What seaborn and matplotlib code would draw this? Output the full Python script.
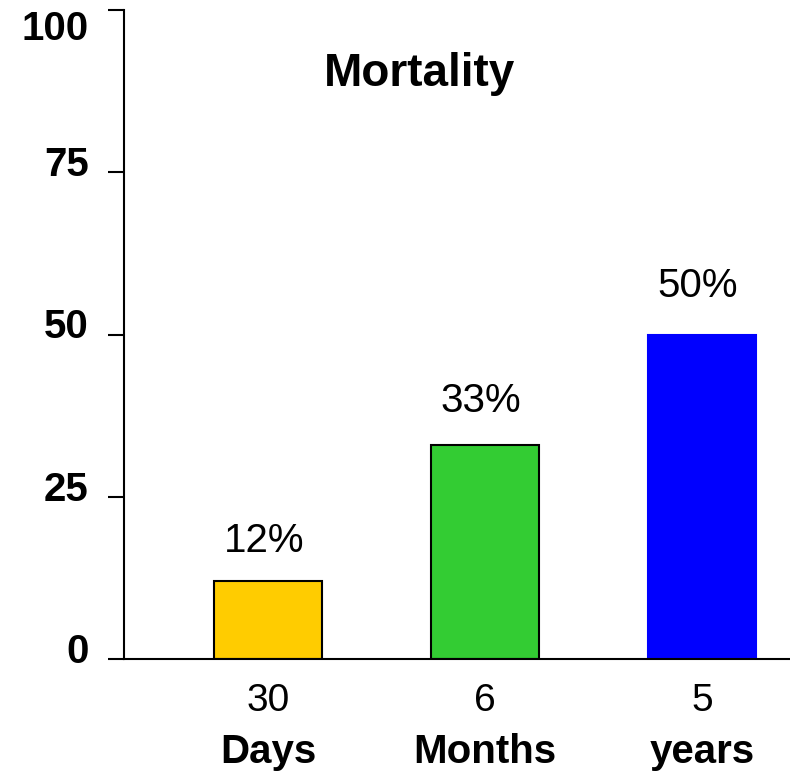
import matplotlib
matplotlib.use("Agg")
import matplotlib.pyplot as plt
import matplotlib.transforms as mtransforms
import seaborn as sns
import pandas as pd

# ---- data ----
numbers = ["30", "6", "5"]
units = ["Days", "Months", "years"]
mortality = [12, 33, 50]
value_labels = ["12%", "33%", "50%"]
bar_colors = ["#FFCC00", "#33CC33", "#0000FF"]
yticks = [0, 25, 50, 75, 100]
title = "Mortality"

sns.set_theme(style="white")
plt.rcParams["font.family"] = ["Liberation Sans", "DejaVu Sans"]
plt.rcParams["text.color"] = "black"
plt.rcParams["xtick.color"] = "black"
plt.rcParams["ytick.color"] = "black"

df = pd.DataFrame({"period": numbers, "mortality": mortality})

fig = plt.figure(figsize=(7.9, 7.71), dpi=100)
ax = fig.add_axes([124 / 790, 1 - 659 / 771, 666 / 790, 649 / 771])

sns.barplot(data=df, x="period", y="mortality", hue="period",
            palette=bar_colors, legend=False, width=0.5, saturation=1,
            edgecolor="black", linewidth=1.5, ax=ax)
ax.patches[2].set_edgecolor(bar_colors[2])

ax.set_xlim(-0.664, 2.405)
ax.set_ylim(0, 100)
ax.set_xlabel("")
ax.set_ylabel("")

for s in ["top", "right"]:
    ax.spines[s].set_visible(False)
for s in ["left", "bottom"]:
    ax.spines[s].set_color("black")
    ax.spines[s].set_linewidth(1.5)

ax.set_yticks(yticks)
ax.set_yticklabels([str(t) for t in yticks], fontsize=29, fontweight="bold",
                   color="black")
ax.tick_params(axis="y", direction="out", length=11.5, width=1.5,
               color="black", pad=14, left=True)
ax.tick_params(axis="x", length=0, pad=17, labelsize=28, labelcolor="black")
ax.set_xticks(range(len(numbers)))
ax.set_xticklabels(numbers)

up = mtransforms.ScaledTranslation(0, 8 / 72, fig.dpi_scale_trans)
ylabels = ax.get_yticklabels()
for lab in ylabels[:-1]:
    lab.set_transform(lab.get_transform() + up)
ylabels[-1].set_verticalalignment("top")

for i, w in enumerate(units):
    ax.annotate(w, xy=(i, 0), xycoords=("data", "axes fraction"),
                xytext=(0, -53), textcoords="offset points",
                ha="center", va="top", fontsize=29, fontweight="bold",
                color="black")

for i, (v, lab) in enumerate(zip(mortality, value_labels)):
    ax.annotate(lab, xy=(i, v), xytext=(-3, 15 + 3 * i),
                textcoords="offset points",
                ha="center", va="bottom", fontsize=29, color="black")

ax.text(0.444, 0.902, title, transform=ax.transAxes, ha="center",
        va="center", fontsize=33, fontweight="bold", color="black")

fig.savefig("out.png", dpi=100)
